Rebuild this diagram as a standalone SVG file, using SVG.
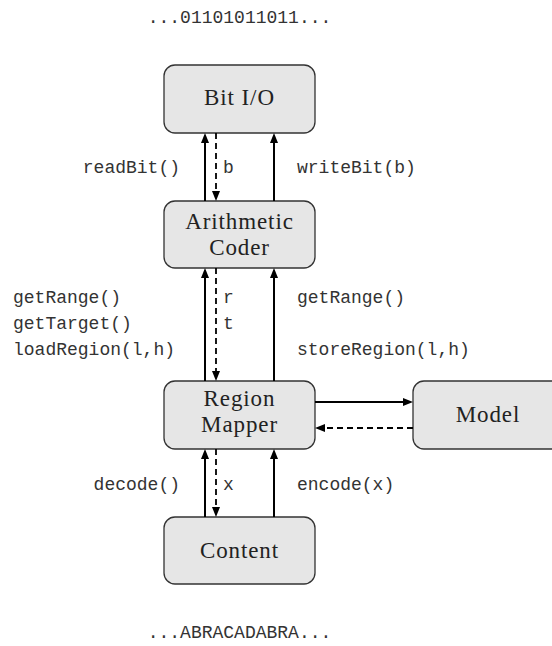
<svg xmlns="http://www.w3.org/2000/svg" width="552" height="646" viewBox="0 0 552 646">
  <style>
    .box { fill: #e6e6e6; stroke: #333; stroke-width: 1.3; }
    .lbl { font-family: "Liberation Serif", "Times New Roman", serif; font-size: 23px; fill: #222; text-anchor: middle; letter-spacing: 0.9px; }
    .tt { font-family: "Liberation Mono", "DejaVu Sans Mono", monospace; font-size: 18px; fill: #333; }
    .solid { stroke: #000; stroke-width: 2; fill: none; marker-end: url(#head); }
    .dash { stroke: #000; stroke-width: 1.8; fill: none; stroke-dasharray: 6 4; marker-end: url(#head); }
  </style>
  <defs>
    <marker id="head" viewBox="0 0 10 8" refX="6" refY="4" markerWidth="10" markerHeight="8" markerUnits="userSpaceOnUse" orient="auto">
      <path d="M0,0 L10,4 L0,8 z" fill="#000"/>
    </marker>
  </defs>

  <!-- stream texts -->
  <text class="tt" x="239.5" y="23" text-anchor="middle">...01101011011...</text>
  <text class="tt" x="239.5" y="638" text-anchor="middle">...ABRACADABRA...</text>

  <g id="bitio">
    <rect class="box" x="164" y="65" width="151" height="68" rx="11"/>
    <text class="lbl" x="239.5" y="105">Bit I/O</text>
  </g>
  <g id="coder">
    <rect class="box" x="164" y="201" width="151" height="67" rx="11"/>
    <text class="lbl" x="239.5" y="229">Arithmetic</text>
    <text class="lbl" x="239.5" y="255">Coder</text>
  </g>
  <g id="mapper">
    <rect class="box" x="164" y="381" width="151" height="68" rx="11"/>
    <text class="lbl" x="239.5" y="406">Region</text>
    <text class="lbl" x="239.5" y="432">Mapper</text>
  </g>
  <g id="model">
    <rect class="box" x="413" y="381" width="151" height="68" rx="11"/>
    <text class="lbl" x="488" y="422">Model</text>
  </g>
  <g id="content">
    <rect class="box" x="164" y="517" width="151" height="67" rx="11"/>
    <text class="lbl" x="239.5" y="558">Content</text>
  </g>

  <g id="connectors">
    <!-- Bit I/O <-> Arithmetic Coder -->
    <line class="solid" x1="205" y1="201" x2="205" y2="137"/>
    <line class="dash" x1="216" y1="133" x2="216" y2="197"/>
    <line class="solid" x1="274" y1="201" x2="274" y2="137"/>
    <!-- Arithmetic Coder <-> Region Mapper -->
    <line class="solid" x1="205" y1="381" x2="205" y2="272"/>
    <line class="dash" x1="216" y1="268" x2="216" y2="377"/>
    <line class="solid" x1="274" y1="381" x2="274" y2="272"/>
    <!-- Region Mapper <-> Model -->
    <line class="solid" x1="315" y1="402" x2="409" y2="402"/>
    <line class="dash" x1="413" y1="428" x2="319" y2="428"/>
    <!-- Region Mapper <-> Content -->
    <line class="solid" x1="205" y1="517" x2="205" y2="453"/>
    <line class="dash" x1="216" y1="449" x2="216" y2="513"/>
    <line class="solid" x1="274" y1="517" x2="274" y2="453"/>
  </g>

  <g id="labels">
    <text class="tt" x="180" y="173" text-anchor="end">readBit()</text>
    <text class="tt" x="223" y="173">b</text>
    <text class="tt" x="297" y="173">writeBit(b)</text>

    <text class="tt" x="13" y="303">getRange()</text>
    <text class="tt" x="13" y="329">getTarget()</text>
    <text class="tt" x="13" y="355">loadRegion(l,h)</text>
    <text class="tt" x="223" y="303">r</text>
    <text class="tt" x="223" y="329">t</text>
    <text class="tt" x="297" y="303">getRange()</text>
    <text class="tt" x="297" y="355">storeRegion(l,h)</text>

    <text class="tt" x="180" y="490" text-anchor="end">decode()</text>
    <text class="tt" x="223" y="490">x</text>
    <text class="tt" x="297" y="490">encode(x)</text>
  </g>
</svg>
